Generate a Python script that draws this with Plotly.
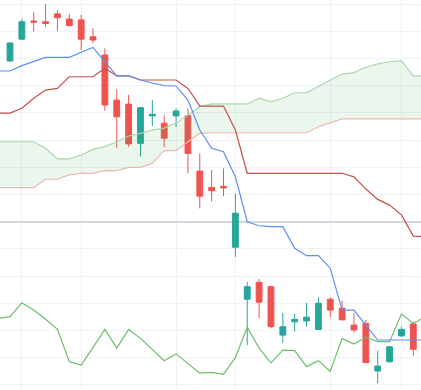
import plotly.graph_objects as go

# Candle data (visible window, index 0..34)
candle_idx = list(range(35))
open_ = [5.91, 6.71, 7.38, 7.35, 7.64, 7.45, 7.42, 6.80, 6.13, 4.47, 4.32, 2.88, 3.89, 3.62, 3.89, 3.90,
         1.86, 1.26, 1.30, -0.94, -2.85, -2.23, -2.39, -4.17, -3.68, -3.65, -3.96, -2.85, -3.18, -3.80,
         -3.74, -5.49, -5.15, -4.20, -3.76]
high = [6.61, 7.45, 7.70, 8.00, 7.78, 7.64, 7.60, 7.11, 6.37, 4.87, 4.66, 4.22, 4.47, 3.92, 4.17, 4.17,
        2.51, 1.90, 1.96, 1.02, -2.21, -2.11, -2.35, -3.35, -3.39, -2.98, -2.78, -2.78, -2.90, -3.37,
        -3.61, -4.74, -4.57, -3.86, -3.68]
low = [5.87, 6.68, 6.99, 7.17, 7.02, 7.17, 6.31, 6.56, 4.08, 2.71, 2.75, 2.39, 3.52, 2.75, 3.48, 1.78,
       0.49, 0.74, 0.94, -1.29, -4.53, -3.55, -3.92, -4.45, -4.04, -3.86, -3.98, -3.51, -3.63, -4.08,
       -5.20, -5.94, -5.18, -4.23, -4.93]
close = [6.57, 7.35, 7.34, 7.29, 7.50, 7.21, 6.71, 6.68, 4.29, 3.86, 2.86, 4.19, 3.95, 3.07, 4.07, 2.51,
         0.94, 1.14, 1.24, 0.31, -2.39, -2.96, -3.86, -3.86, -3.59, -3.51, -3.00, -3.25, -3.61, -3.98,
         -5.18, -5.31, -4.60, -3.96, -4.69]

# Indicator lines (index -1..35, extend past the visible window)
line_idx = list(range(-1, 36))
tenkan = [5.54, 5.54, 5.74, 5.89, 6.04, 6.04, 6.04, 6.23, 6.41, 5.88, 5.36, 5.36, 5.21, 5.10, 5.00, 4.99,
          4.47, 3.37, 2.70, 2.57, 1.65, 0.00, -0.15, -0.18, -0.18, -0.98, -1.25, -1.25, -1.71, -3.25,
          -3.25, -3.80, -4.35, -4.35, -4.35, -4.35, -4.35]
kijun = [3.99, 3.99, 4.17, 4.54, 4.84, 4.90, 5.33, 5.33, 5.33, 5.64, 5.36, 5.36, 5.21, 5.21, 5.21, 5.21,
         4.90, 4.25, 4.25, 4.25, 3.37, 1.78, 1.78, 1.78, 1.78, 1.78, 1.78, 1.78, 1.78, 1.78, 1.65, 1.20,
         0.82, 0.61, 0.25, -0.53, -0.55]
span_a = [2.94, 2.94, 2.94, 2.94, 2.70, 2.31, 2.31, 2.45, 2.66, 2.76, 2.94, 3.15, 3.25, 3.37, 3.44, 3.63,
          3.92, 4.23, 4.33, 4.33, 4.33, 4.33, 4.54, 4.41, 4.54, 4.74, 4.74, 4.99, 5.21, 5.43, 5.48, 5.68,
          5.80, 5.88, 5.92, 5.36, 5.36]
span_b = [1.25, 1.25, 1.25, 1.25, 1.56, 1.56, 1.72, 1.78, 1.78, 1.88, 1.88, 2.00, 2.00, 2.15, 2.61, 2.61,
          2.94, 3.25, 3.27, 3.27, 3.27, 3.27, 3.27, 3.27, 3.27, 3.27, 3.27, 3.49, 3.63, 3.78, 3.78, 3.78,
          3.78, 3.78, 3.78, 3.78, 3.78]
lagging = [-3.56, -3.49, -2.98, -3.25, -3.59, -3.96, -5.15, -5.27, -4.62, -3.96, -4.65, -3.96, -4.29,
           -4.69, -5.11, -4.86, -5.21, -5.57, -5.54, -5.61, -4.99, -3.88, -4.65, -5.19, -4.72, -4.74,
           -5.33, -5.11, -5.51, -4.29, -4.50, -4.25, -4.41, -4.41, -3.39, -3.74, -3.50]

grid_x = [1, 6, 14, 19, 27, 33]

fig = go.Figure()
fig.add_trace(go.Scatter(x=line_idx, y=span_b, mode="lines",
                         line=dict(color="#efb7b1", width=1.2), hoverinfo="skip"))
fig.add_trace(go.Scatter(x=line_idx, y=span_a, mode="lines", fill="tonexty",
                         fillcolor="rgba(76,175,80,0.11)",
                         line=dict(color="#a9d8aa", width=1.2), hoverinfo="skip"))
fig.add_trace(go.Scatter(x=line_idx, y=lagging, mode="lines",
                         line=dict(color="#6dbf6c", width=1.2)))
fig.add_trace(go.Scatter(x=line_idx, y=kijun, mode="lines",
                         line=dict(color="#c4504d", width=1.2)))
fig.add_trace(go.Scatter(x=line_idx, y=tenkan, mode="lines",
                         line=dict(color="#5e8ef2", width=1.2)))
fig.add_trace(go.Candlestick(
    x=candle_idx, open=open_, high=high, low=low, close=close,
    increasing=dict(line=dict(color="#26a69a", width=1), fillcolor="#26a69a"),
    decreasing=dict(line=dict(color="#ef5350", width=1), fillcolor="#ef5350"),
    whiskerwidth=0,
))

fig.update_layout(
    width=421, height=390,
    margin=dict(l=0, r=0, t=0, b=0),
    paper_bgcolor="white", plot_bgcolor="white",
    showlegend=False,
    xaxis=dict(range=[-0.843, 34.65], tickmode="array", tickvals=grid_x, showticklabels=False,
               showgrid=True, gridcolor="#edf2f7", gridwidth=1, zeroline=False,
               rangeslider=dict(visible=False), ticks=""),
    yaxis=dict(range=[-6.188, 8.151], dtick=1, tick0=0, showticklabels=False,
               showgrid=True, gridcolor="#edf2f7", gridwidth=1,
               zeroline=True, zerolinecolor="#d6d6df", zerolinewidth=2, ticks=""),
)

fig.write_html("out.html", config={"displayModeBar": False},
               post_script="document.body.style.margin='0';document.body.style.overflow='hidden';")
